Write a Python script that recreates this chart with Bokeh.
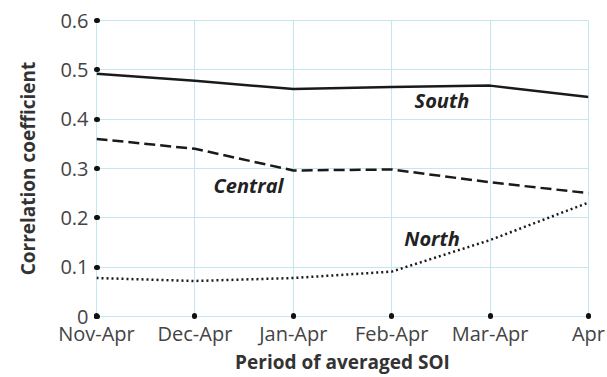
from bokeh.plotting import figure
from bokeh.models import Range1d, FixedTicker, Label
from bokeh.embed import file_html
from bokeh.resources import INLINE

periods = ["Nov-Apr", "Dec-Apr", "Jan-Apr", "Feb-Apr", "Mar-Apr", "Apr"]
south = [0.492, 0.478, 0.461, 0.465, 0.468, 0.445]
central = [0.360, 0.340, 0.296, 0.298, 0.272, 0.250]
north = [0.078, 0.072, 0.078, 0.091, 0.155, 0.231]
y_ticks = [0, 0.1, 0.2, 0.3, 0.4, 0.5, 0.6]
y_tick_labels = ["0", "0.1", "0.2", "0.3", "0.4", "0.5", "0.6"]
x_title = "Period of averaged SOI"
y_title = "Correlation coefficient"

xs = list(range(len(periods)))
FONT = "Open Sans"
GRID = "#c4e6f0"

p = figure(width=607, height=377, output_backend="svg", toolbar_location=None,
           x_range=Range1d(0, len(periods) - 1), y_range=Range1d(0, 0.6),
           min_border_left=96, min_border_right=19, min_border_top=20, min_border_bottom=61)
p.background_fill_color = "white"
p.border_fill_color = "white"
p.outline_line_color = GRID
p.outline_line_width = 1

p.xaxis.ticker = FixedTicker(ticks=xs)
p.xaxis.major_label_overrides = {i: s for i, s in enumerate(periods)}
p.yaxis.ticker = FixedTicker(ticks=y_ticks)
p.yaxis.major_label_overrides = {t: s for t, s in zip(y_ticks, y_tick_labels)}

for ax in (p.xaxis[0], p.yaxis[0]):
    ax.axis_line_color = None
    ax.major_tick_line_color = "#111111"
    ax.major_tick_line_width = 5
    ax.major_tick_line_cap = "round"
    ax.major_tick_in = 1
    ax.major_tick_out = 0
    ax.minor_tick_line_color = None
    ax.major_label_text_font = FONT
    ax.major_label_text_font_size = "20px"
    ax.major_label_text_color = "#444444"
    ax.axis_label_text_font = FONT
    ax.axis_label_text_font_style = "bold"
    ax.axis_label_text_color = "#333333"

p.xaxis.axis_label = x_title
p.xaxis.axis_label_text_font_size = "19px"
p.xaxis.major_label_standoff = 3
p.xaxis.axis_label_standoff = -1
p.yaxis.axis_label = y_title
p.yaxis.axis_label_text_font_size = "19px"
p.yaxis.major_label_standoff = 8
p.yaxis.axis_label_standoff = 16

p.xgrid.ticker = FixedTicker(ticks=xs)
p.ygrid.ticker = FixedTicker(ticks=y_ticks)
for g in (p.xgrid[0], p.ygrid[0]):
    g.grid_line_color = GRID
    g.grid_line_width = 1

p.line(xs, south, line_color="#1a1a1a", line_width=2.5)
p.line(xs, central, line_color="#1a1a1a", line_width=2.5, line_dash="11 5")
p.line(xs, north, line_color="#1a1a1a", line_width=2.5, line_dash="2 3")

for txt, x, y in [("South", 3.51, 0.438), ("Central", 1.545, 0.266), ("North", 3.41, 0.158)]:
    p.add_layout(Label(x=x, y=y, text=txt, text_font=FONT, text_font_style="bold italic",
                       text_font_size="20px", text_color="#222222",
                       text_align="center", text_baseline="middle"))

open("out.html", "w").write(file_html(p, INLINE))
